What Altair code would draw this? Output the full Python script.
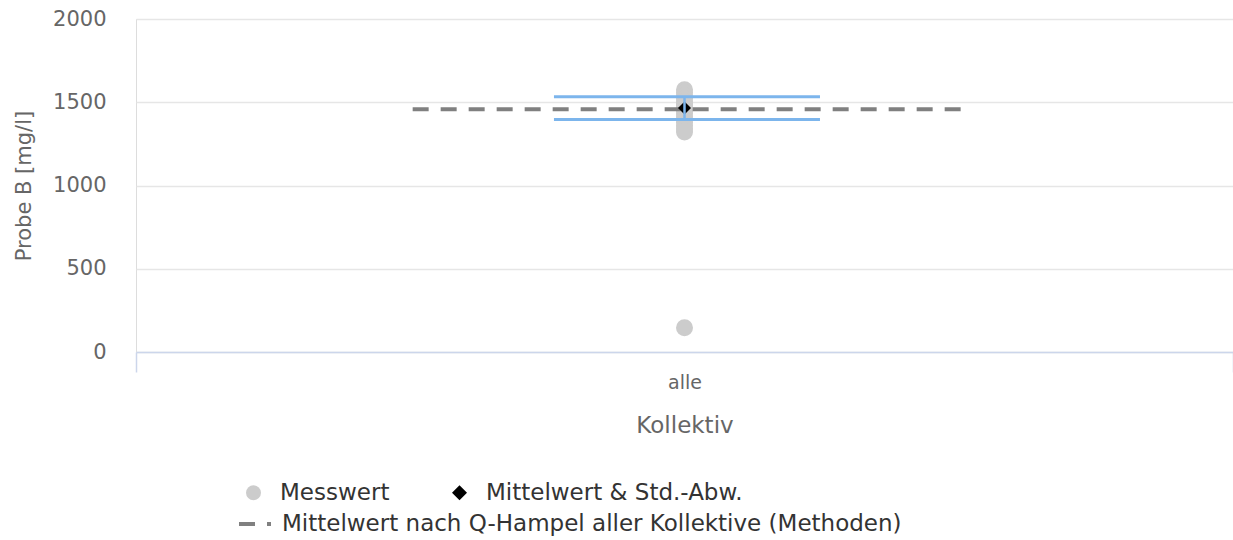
import altair as alt
import pandas as pd

# ---- values -------------------------------------------------------------
collective = ["alle"]
measured = [1575, 1558, 1540, 1522, 1505, 1490, 1476, 1462, 1448, 1432,
            1415, 1398, 1380, 1360, 1340, 1321, 145]
group_mean = [1465]
group_sd = [68]
hampel_mean = [1458]

point_series = ["Messwert", "Mittelwert & Std.-Abw."]
point_colors = ["#cccccc", "#000000"]
point_shapes = ["circle", "diamond"]
line_series = ["Mittelwert nach Q-Hampel aller Kollektive (Methoden)"]
line_color = "#808080"

y_ticks = [0, 500, 1000, 1500, 2000]

# ---- tables -------------------------------------------------------------
points = pd.DataFrame({
    "kollektiv": collective * len(measured),
    "wert": measured,
    "serie": point_series[0],
})
stats = pd.DataFrame({
    "kollektiv": collective,
    "mittel": group_mean,
    "oben": [m + s for m, s in zip(group_mean, group_sd)],
    "unten": [m - s for m, s in zip(group_mean, group_sd)],
    "serie": point_series[1],
})
reference = pd.DataFrame({
    "kollektiv": collective,
    "hampel": hampel_mean,
    "linie": line_series,
})

FONT = "DejaVu Sans"
GREY_TEXT = "#666666"
BLUE = "#7cb5ec"
LEGEND_FONT_SIZE = 23

x_scale = alt.Scale(paddingInner=0, paddingOuter=0)
x_axis = alt.Axis(
    title="Kollektiv", titleFont=FONT, titleFontSize=23, titleFontWeight="normal",
    titleColor=GREY_TEXT, titlePadding=22,
    labelFont=FONT, labelFontSize=19, labelColor=GREY_TEXT, labelAngle=0,
    labelPadding=1, domainColor="#ccd6eb", domainWidth=1.5,
    tickColor="#ccd6eb", tickWidth=1.5, tickSize=20, tickBand="extent", grid=False,
)
y_scale = alt.Scale(domain=[0, 2000], nice=False)
y_axis = alt.Axis(
    title="Probe B [mg/l]", titleFont=FONT, titleFontSize=21, titleFontWeight="normal",
    titleColor=GREY_TEXT, titlePadding=18, format="d",
    labelFont=FONT, labelFontSize=21, labelColor=GREY_TEXT, labelPadding=30,
    values=y_ticks, domain=False, ticks=False,
    grid=True, gridColor="#e6e6e6", gridWidth=1.5,
)

# first legend row: measured values and mean
point_legend = alt.Legend(
    title=None, orient="none", legendX=106, legendY=462,
    direction="horizontal", columnPadding=58,
    symbolSize=225, symbolStrokeWidth=0,
    labelFont=FONT, labelFontSize=LEGEND_FONT_SIZE, labelColor="#333333",
    labelOffset=15, labelLimit=1000,
)
color_enc = alt.Color("serie:N", scale=alt.Scale(domain=point_series, range=point_colors), legend=point_legend)
shape_enc = alt.Shape("serie:N", scale=alt.Scale(domain=point_series, range=point_shapes), legend=point_legend)

# second legend row: dashed reference line
line_legend = alt.Legend(
    title=None, orient="none", legendX=101, legendY=487,
    symbolType="stroke", symbolSize=1024, symbolStrokeWidth=4,
    symbolStrokeColor=line_color,
    labelFont=FONT, labelFontSize=LEGEND_FONT_SIZE, labelColor="#333333",
    labelOffset=9, labelLimit=1000,
)
dash_enc = alt.StrokeDash(
    "linie:N", scale=alt.Scale(domain=line_series, range=[[16, 12]]), legend=line_legend
)


def xpos(band=0.5):
    return alt.X("kollektiv:N", scale=x_scale, axis=x_axis, bandPosition=band)


def ypos(field):
    return alt.Y(f"{field}:Q", scale=y_scale, axis=y_axis)


# individual measurements
dots = alt.Chart(points).mark_point(filled=True, size=289, opacity=1).encode(
    x=xpos(), y=ypos("wert"), color=color_enc, shape=shape_enc,
)

# Hampel mean across all collectives (dashed)
hampel = alt.Chart(reference).mark_rule(color=line_color, strokeWidth=4).encode(
    x=xpos(0.2522), x2=alt.X2("kollektiv", bandPosition=0.7518), y=ypos("hampel"),
    strokeDash=dash_enc,
)

# group mean
mean_mark = alt.Chart(stats).mark_point(filled=True, size=169, opacity=1).encode(
    x=xpos(), y=ypos("mittel"), color=color_enc, shape=shape_enc,
)

# standard deviation: vertical whisker plus upper/lower bars
whisker = alt.Chart(stats).mark_rule(color=BLUE, strokeWidth=2.5).encode(
    x=xpos(), y=ypos("unten"), y2=alt.Y2("oben"),
)
upper = alt.Chart(stats).mark_rule(color=BLUE, strokeWidth=3).encode(
    x=xpos(0.381), x2=alt.X2("kollektiv", bandPosition=0.6235), y=ypos("oben"),
)
lower = alt.Chart(stats).mark_rule(color=BLUE, strokeWidth=3).encode(
    x=xpos(0.381), x2=alt.X2("kollektiv", bandPosition=0.6235), y=ypos("unten"),
)

chart = alt.layer(dots, hampel, mean_mark, whisker, upper, lower).properties(
    width=1097, height=333,
    autosize=alt.AutoSizeParams(type="none"),
    padding={"left": 136, "top": 19, "right": 0, "bottom": 188},
).configure_view(stroke=None).configure(background="white")

chart.save("out.html", embed_options={"renderer": "svg", "actions": False})
